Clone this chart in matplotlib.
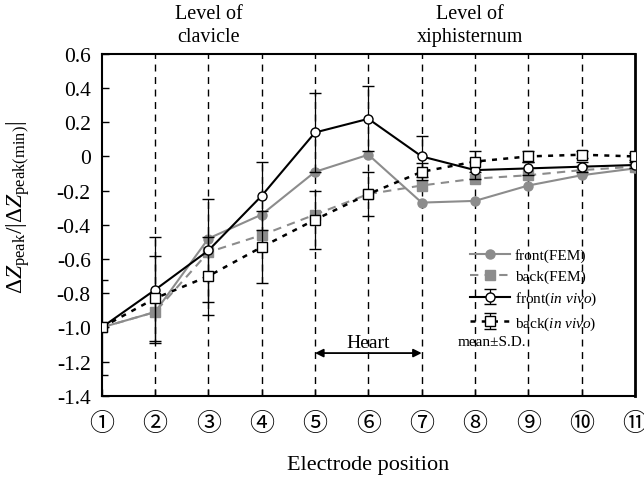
import matplotlib
matplotlib.use("Agg")
import matplotlib.pyplot as plt
from matplotlib.transforms import blended_transform_factory

plt.rcParams['font.family'] = ['Liberation Serif', 'Noto Sans CJK JP', 'DejaVu Sans']
plt.rcParams['mathtext.fontset'] = 'custom'
plt.rcParams['mathtext.rm'] = 'Liberation Serif'
plt.rcParams['mathtext.it'] = 'Liberation Serif:italic'

positions = [1, 2, 3, 4, 5, 6, 7, 8, 9, 10, 11]
tick_labels = ['①', '②', '③', '④', '⑤', '⑥', '⑦', '⑧', '⑨', '⑩', '⑪']

front_fem = [-1.0, -0.91, -0.48, -0.34, -0.09, 0.01, -0.27, -0.26, -0.17, -0.11, -0.07]
back_fem = [-1.0, -0.91, -0.56, -0.46, -0.34, -0.22, -0.17, -0.13, -0.11, -0.08, -0.06]
front_vivo = [-1.0, -0.78, -0.55, -0.23, 0.14, 0.22, 0.0, -0.08, -0.07, -0.06, -0.05]
front_vivo_sd = [0.28, 0.31, 0.30, 0.20, 0.23, 0.19, 0.12, 0.05, 0.04, 0.03, 0.02]
back_vivo = [-1.0, -0.83, -0.70, -0.53, -0.37, -0.22, -0.09, -0.03, 0.0, 0.01, 0.0]
back_vivo_sd = [0.0, 0.25, 0.23, 0.21, 0.17, 0.13, 0.05, 0.06, 0.03, 0.02, 0.02]

gray = '#8c8c8c'

fig = plt.figure(figsize=(6.44, 4.81), dpi=100)
ax = fig.add_axes([0.158, 0.175, 0.828, 0.711])

for xp in positions[1:-1]:
    ax.axvline(xp, color='black', linestyle=(0, (5, 4)), linewidth=1.0, zorder=1)

ax.plot(positions, front_fem, color=gray, linestyle='-', linewidth=1.5,
        marker='o', markersize=6.5, markerfacecolor=gray, markeredgecolor=gray,
        label='front(FEM)', zorder=3)
ax.plot(positions, back_fem, color=gray, linestyle=(0, (4, 3)), linewidth=1.5,
        marker='s', markersize=6.5, markerfacecolor=gray, markeredgecolor=gray,
        label='back(FEM)', zorder=3)
ax.errorbar(positions, front_vivo, yerr=front_vivo_sd, color='black', linestyle='-',
            linewidth=1.5, marker='o', markersize=6.5, markerfacecolor='white',
            markeredgecolor='black', ecolor='black', elinewidth=0.9, capsize=4,
            label='front($\\it{in\\ vivo}$)', zorder=4)
ax.errorbar(positions, back_vivo, yerr=back_vivo_sd, color='black', linestyle=(0, (2, 2.5)),
            linewidth=1.8, marker='s', markersize=6.5, markerfacecolor='white',
            markeredgecolor='black', ecolor='black', elinewidth=0.9, capsize=4,
            label='back($\\it{in\\ vivo}$)', zorder=4)

ax.set_xlim(1, 11)
ax.set_ylim(-1.4, 0.6)
ax.set_yticks([-1.4, -1.2, -1.0, -0.8, -0.6, -0.4, -0.2, 0, 0.2, 0.4, 0.6])
ax.set_yticklabels(['-1.4', '-1.2', '-1.0', '-0.8', '-0.6', '-0.4', '-0.2', '0', '0.2', '0.4', '0.6'])
ax.set_xticks(positions)
ax.tick_params(axis='both', direction='in', length=5, width=1.0, labelsize=15.5)
ax.tick_params(axis='y', pad=8)
ax.set_xticklabels(tick_labels, fontsize=18)
ax.tick_params(axis='x', pad=12)
for s in ax.spines.values():
    s.set_linewidth(1.5)
ax.spines['right'].set_linewidth(2.0)

ax.set_xlabel('Electrode position', fontsize=16, labelpad=14)
ax.set_ylabel(r'$\Delta Z_{\mathrm{peak}}/|\Delta Z_{\mathrm{peak(min)}}|$', fontsize=17)
ax.yaxis.set_label_coords(-0.13, 0.553)

ax.annotate('', xy=(5, -1.15), xytext=(7, -1.15),
            arrowprops=dict(arrowstyle='<|-|>', color='black', lw=1.3, mutation_scale=12,
                            shrinkA=0, shrinkB=0))
ax.text(6, -1.09, 'Heart', ha='center', va='center', fontsize=14)

tr = blended_transform_factory(ax.transData, ax.transAxes)
ax.text(3, 1.085, 'Level of\nclavicle', transform=tr, ha='center', va='center', fontsize=14.5,
        linespacing=1.3)
ax.text(7.9, 1.085, 'Level of\nxiphisternum', transform=tr, ha='center', va='center', fontsize=14.5,
        linespacing=1.3)

leg = ax.legend(loc='lower right', bbox_to_anchor=(0.94, 0.17), frameon=False, fontsize=11,
                handlelength=2.6, handletextpad=0.3, labelspacing=0.45, borderaxespad=0)
ax.text(0.668, 0.16, 'mean±S.D.', transform=ax.transAxes, fontsize=11, ha='left', va='center')

fig.savefig('out.png', dpi=100)
